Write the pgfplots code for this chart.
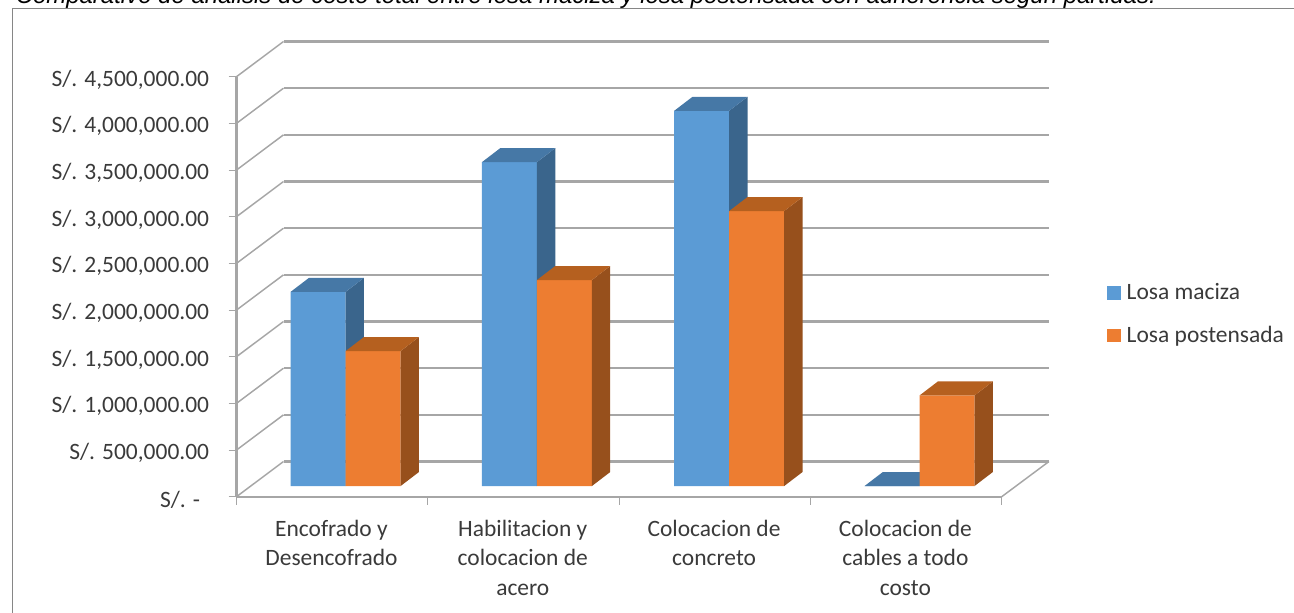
\documentclass[border=0pt]{standalone}
\usepackage{fontspec}
\setmainfont{Carlito}
\newfontfamily\captionfont{Liberation Sans}
\usepackage{pgfplots}
\pgfplotsset{compat=1.18}

\definecolor{bluefront}{HTML}{5B9BD5}
\definecolor{blueside}{HTML}{3A658C}
\definecolor{bluetop}{HTML}{4678A6}
\definecolor{orangefront}{HTML}{ED7D31}
\definecolor{orangeside}{HTML}{97501C}
\definecolor{orangetop}{HTML}{B5601F}
\definecolor{wallgrey}{HTML}{A6A6A6}
\definecolor{labelgrey}{HTML}{3A3A3A}
\definecolor{framegrey}{HTML}{868686}

% One prism: left edge (category units), value (millions), three face colours.
\newcommand{\prism}[5]{%
  \pgfmathsetmacro\xa{#1}%
  \pgfmathsetmacro\xb{#1+0.2875}%
  \pgfmathsetmacro\xc{#1+0.2875+0.0957}%
  \pgfmathsetmacro\xd{#1+0.0957}%
  \pgfmathsetmacro\ya{0.1146}%
  \pgfmathsetmacro\yb{0.1146+#2}%
  \pgfmathsetmacro\yc{0.1146+#2+0.15}%
  \pgfmathsetmacro\yd{0.1146+0.15}%
  \addplot[fill=#3,draw=none,forget plot] coordinates {(\xa,\ya)(\xb,\ya)(\xb,\yb)(\xa,\yb)(\xa,\ya)};
  \addplot[fill=#4,draw=none,forget plot] coordinates {(\xb,\ya)(\xc,\yd)(\xc,\yc)(\xb,\yb)(\xb,\ya)};
  \addplot[fill=#5,draw=none,forget plot] coordinates {(\xa,\yb)(\xb,\yb)(\xc,\yc)(\xd,\yc)(\xa,\yb)};
}
\newcommand{\bluebar}[2]{\prism{#1}{#2}{bluefront}{blueside}{bluetop}}
\newcommand{\orangebar}[2]{\prism{#1}{#2}{orangefront}{orangeside}{orangetop}}

% Gridline running up the side wall and along the back wall.
\newcommand{\wallline}[2]{%
  \addplot[wallgrey,line width=1.6pt,forget plot] coordinates {(0.2457,#2)(4.247,#2)};
  \addplot[wallgrey,line width=1.1pt,forget plot] coordinates {(0,#1)(0.2457,#2)};
}

\begin{document}
\begin{tikzpicture}[x=0.75pt,y=-0.75pt]
  \path[use as bounding box,clip] (0,0) rectangle (1294,613);
  \node[anchor=base west,inner sep=0pt,font=\captionfont\itshape\fontsize{17.97}{21}\selectfont]
    at (15.5,4) {Comparativo de análisis de costo total entre losa maciza y losa postensada con adherencia según partidas.};
  \draw[framegrey,line width=0.75pt] (1294,8.5) -- (12.7,8.5) -- (12.7,613);
  \coordinate (plotcorner) at (236.5,496.7);
  \begin{axis}[
    at={(plotcorner)},anchor=south west,
    scale only axis,width=573.9pt,height=315pt,
    xmin=0,xmax=4,ymin=0,ymax=4.5,
    clip=false,
    axis lines=left,
    axis line style={-,wallgrey,line width=1.6pt},
    tick align=outside,
    major tick length=6pt,
    tick style={wallgrey,line width=0.8pt},
    xtick={0,1,2,3,4},
    x tick label as interval,
    xticklabels={{Encofrado y\\Desencofrado},{Habilitacion y\\colocacion de\\acero},{Colocacion de\\concreto},{Colocacion de\\cables a todo\\costo}},
    x tick label style={align=center,anchor=north,font=\fontsize{17.6}{22.2}\selectfont,text=labelgrey,yshift=-8pt,xshift=-0.5pt},
    ytick={0,0.5,1,1.5,2,2.5,3,3.5,4,4.5},
    yticklabels={{S/. -\kern6.75pt},{S/. 500,000.00},{S/. 1,000,000.00},{S/. 1,500,000.00},{S/. 2,000,000.00},{S/. 2,500,000.00},{S/. 3,000,000.00},{S/. 3,500,000.00},{S/. 4,000,000.00},{S/. 4,500,000.00}},
    y tick label style={anchor=east,font=\fontsize{17.6}{22.4}\selectfont,text=labelgrey,xshift=-11pt,yshift=-2pt},
    legend style={at={(1.1376,0.435)},anchor=west,draw=none,fill=none,inner sep=0pt,outer sep=0pt,
      font=\fontsize{17.6}{22.4}\selectfont,text=labelgrey,row sep=14.5pt},
    legend cell align=left,
    legend image code/.code={\fill[#1] (0pt,-4.7pt) rectangle (9.4pt,4.7pt);\path (12.4pt,0pt);},
  ]
    % Walls and floor
    \wallline{0.5}{0.8771}
    \wallline{1}{1.3771}
    \wallline{1.5}{1.8771}
    \wallline{2}{2.3771}
    \wallline{2.5}{2.8771}
    \wallline{3}{3.3771}
    \wallline{3.5}{3.8771}
    \wallline{4}{4.3771}
    \wallline{4.5}{4.8771}
    \addplot[wallgrey,line width=1.6pt,forget plot] coordinates {(0.2457,0.3771)(4.247,0.3771)};
    \addplot[wallgrey,line width=1.1pt,forget plot] coordinates {(0,0)(0.2457,0.3771)};
    \addplot[wallgrey,line width=1.1pt,forget plot] coordinates {(4,0)(4.247,0.3771)};

    % Encofrado y Desencofrado
    \bluebar{0.283}{2.08}
    \orangebar{0.5705}{1.446}
    % Habilitacion y colocacion de acero
    \bluebar{1.283}{3.47}
    \orangebar{1.5705}{2.207}
    % Colocacion de concreto
    \bluebar{2.288}{4.02}
    \orangebar{2.5755}{2.946}
    % Colocacion de cables a todo costo
    \bluebar{3.283}{0}
    \orangebar{3.5705}{0.97}

    \addlegendimage{bluefront}
    \addlegendentry{Losa maciza}
    \addlegendimage{orangefront}
    \addlegendentry{Losa postensada}
  \end{axis}
\end{tikzpicture}
\end{document}
